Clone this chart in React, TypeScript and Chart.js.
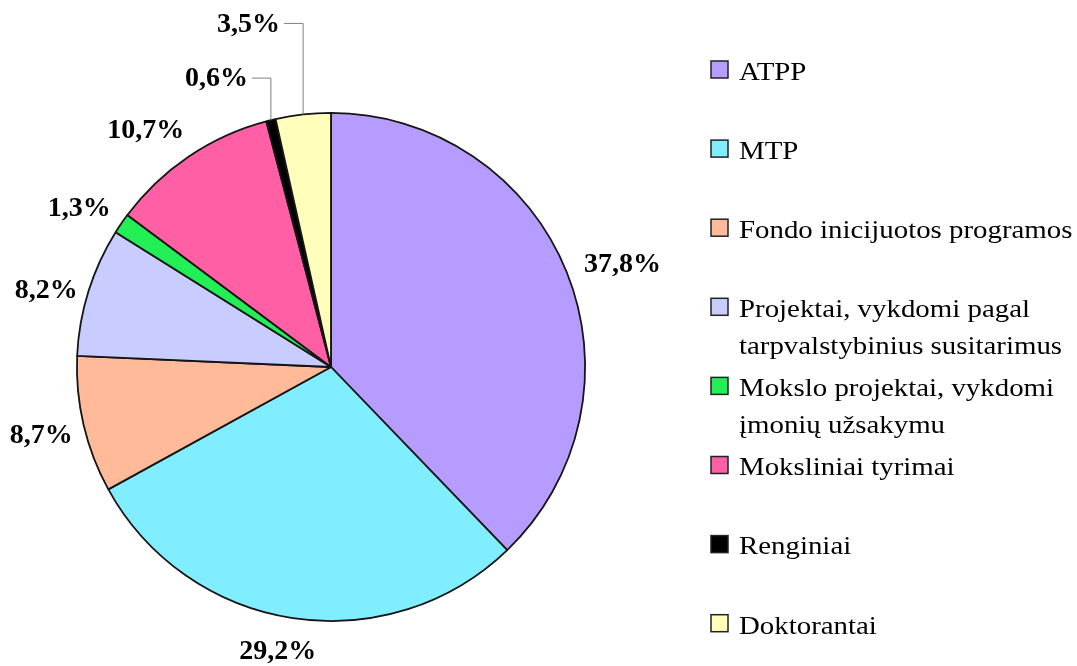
import React, { useEffect, useRef } from "react";
import { Chart, registerables } from "chart.js";

Chart.register(...registerables);

const categories = [
  "ATPP",
  "MTP",
  "Fondo inicijuotos programos",
  "Projektai, vykdomi pagal tarpvalstybinius susitarimus",
  "Mokslo projektai, vykdomi įmonių užsakymu",
  "Moksliniai tyrimai",
  "Renginiai",
  "Doktorantai",
];
const legendLines = [
  ["ATPP"],
  ["MTP"],
  ["Fondo inicijuotos programos"],
  ["Projektai, vykdomi pagal", "tarpvalstybinius susitarimus"],
  ["Mokslo projektai, vykdomi", "įmonių užsakymu"],
  ["Moksliniai tyrimai"],
  ["Renginiai"],
  ["Doktorantai"],
];
const shares = [37.8, 29.2, 8.7, 8.2, 1.3, 10.7, 0.6, 3.5];
const valueLabels = ["37,8%", "29,2%", "8,7%", "8,2%", "1,3%", "10,7%", "0,6%", "3,5%"];
const colors = ["#B69CFF", "#80EEFF", "#FFBB99", "#C8CCFF", "#22EE55", "#FF5FA5", "#000000", "#FFFFBB"];

// label styling tweaks (pixels), not data
const labelNudgeX = [10, -14, -3, -3, -4, 0, 0, 0];
const labelNudgeY = [-4, 12, 9, 2, -10, -5, 0, 0];
const leaderRise = [0, 0, 0, 0, 0, 0, 42, 91];

const labelPlugin = {
  id: "pieLabels",
  afterDatasetsDraw(chart: any) {
    const ctx = chart.ctx as CanvasRenderingContext2D;
    const meta = chart.getDatasetMeta(0);
    ctx.save();
    ctx.font = "bold 28px 'Liberation Serif', 'Times New Roman', serif";
    ctx.fillStyle = "#000";
    meta.data.forEach((arc: any, i: number) => {
      const { x, y, startAngle, endAngle, outerRadius } = arc.getProps(
        ["x", "y", "startAngle", "endAngle", "outerRadius"],
        true
      );
      const mid = (startAngle + endAngle) / 2;
      const c = Math.cos(mid);
      const s = Math.sin(mid);
      if (leaderRise[i] > 0) {
        const ex = x + c * outerRadius;
        const ey = y + s * outerRadius;
        const ty = ey - leaderRise[i];
        ctx.strokeStyle = "#808080";
        ctx.lineWidth = 1;
        ctx.beginPath();
        ctx.moveTo(ex, ey);
        ctx.lineTo(ex, ty);
        ctx.lineTo(ex - 19, ty);
        ctx.stroke();
        ctx.textAlign = "right";
        ctx.textBaseline = "middle";
        ctx.fillText(valueLabels[i], ex - 23, ty + 1);
        return;
      }
      const R = outerRadius + 8;
      const px = x + c * R + labelNudgeX[i];
      const py = y + s * R + labelNudgeY[i];
      ctx.textAlign = c > 0.3 ? "left" : c < -0.3 ? "right" : "center";
      ctx.textBaseline = s > 0.7 ? "top" : s < -0.7 ? "bottom" : "middle";
      ctx.fillText(valueLabels[i], px, py);
    });
    ctx.restore();
  },
};

const legendPlugin = {
  id: "sideLegend",
  afterDraw(chart: any) {
    const ctx = chart.ctx as CanvasRenderingContext2D;
    const top = 73;
    const step = 79.1;
    ctx.save();
    ctx.font = "26px 'Liberation Serif', 'Times New Roman', serif";
    ctx.textAlign = "left";
    ctx.textBaseline = "middle";
    legendLines.forEach((lines, i) => {
      const rowY = top + i * step;
      ctx.fillStyle = colors[i];
      ctx.fillRect(711, rowY - 12, 17, 17);
      ctx.strokeStyle = "#222";
      ctx.lineWidth = 1.5;
      ctx.strokeRect(711, rowY - 12, 17, 17);
      ctx.fillStyle = "#000";
      lines.forEach((t, j) => {
        ctx.save();
        ctx.translate(739, rowY + j * 37);
        ctx.scale(1.11, 1);
        ctx.fillText(t, 0, 0);
        ctx.restore();
      });
    });
    ctx.restore();
  },
};

export default function App() {
  const ref = useRef<HTMLCanvasElement | null>(null);
  useEffect(() => {
    if (!ref.current) return;
    const chart = new Chart(ref.current, {
      type: "pie",
      data: {
        labels: categories,
        datasets: [
          {
            data: shares,
            backgroundColor: colors,
            borderColor: "#151515",
            borderWidth: 1.8,
          },
        ],
      },
      options: {
        responsive: false,
        animation: false,
        devicePixelRatio: 1,
        layout: { padding: { left: 76, right: 491, top: 112, bottom: 44 } },
        plugins: {
          legend: { display: false },
          tooltip: { enabled: false },
        },
      },
      plugins: [labelPlugin, legendPlugin],
    });
    return () => chart.destroy();
  }, []);
  return (
    <div style={{ position: "fixed", left: 0, top: 0, width: 1077, height: 666, background: "#fff" }}>
      <canvas ref={ref} width={1077} height={666} />
    </div>
  );
}
